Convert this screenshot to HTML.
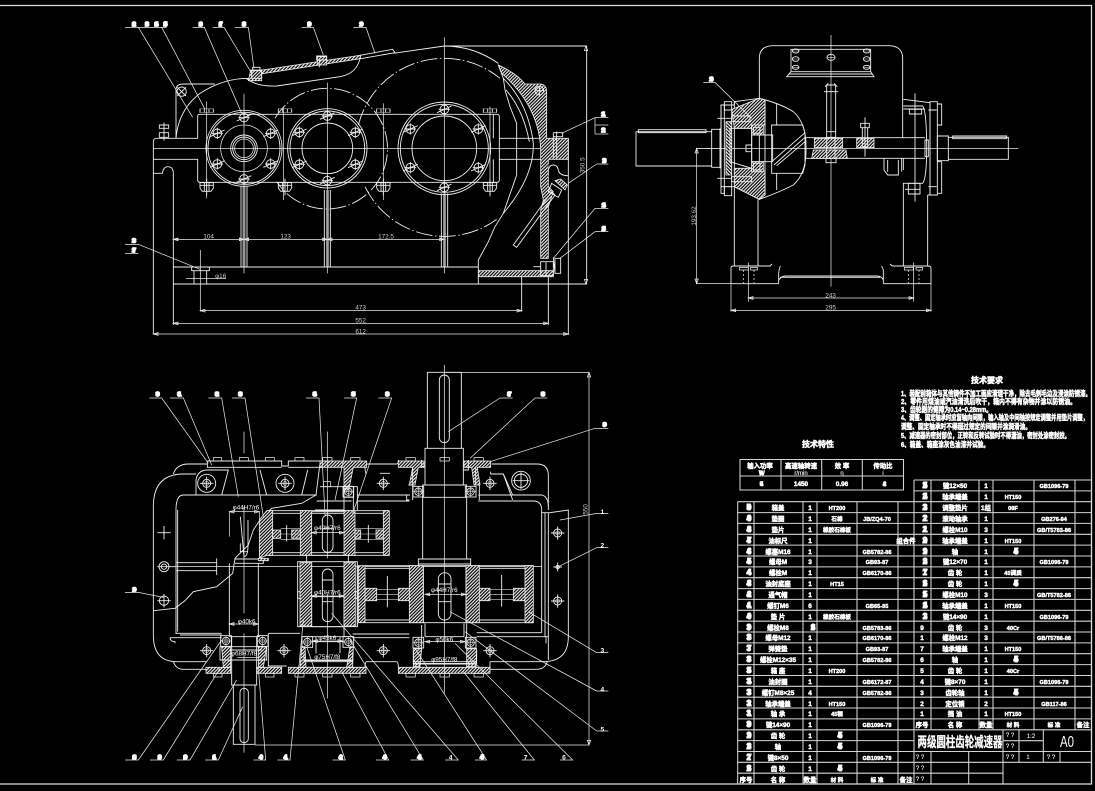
<!DOCTYPE html>
<html lang="zh"><head><meta charset="utf-8"><title>两级圆柱齿轮减速器</title>
<style>
html,body{margin:0;padding:0;background:#000}
svg{display:block}
text{fill:#fff;font-family:"Liberation Sans","Noto Sans CJK SC",sans-serif}
.l{fill:none;stroke:#f0f0f0;stroke-width:2.7;stroke-linecap:butt}
.s{fill:none;stroke:#d8d8d8;stroke-width:1.8}
.c{fill:none;stroke:#e8e8e8;stroke-width:2.2}
.dd{fill:none;stroke:#f0f0f0;stroke-width:2.7;stroke-dasharray:50 8 4 8}
.h{fill:url(#ha);stroke:#f0f0f0;stroke-width:2.4}
.h2{fill:url(#hb);stroke:#f0f0f0;stroke-width:2.4}
.b{font-size:16px;font-weight:700;stroke:#fff;stroke-width:4.5px;stroke-linejoin:miter;text-anchor:middle;letter-spacing:-6px}
.d{font-size:19px;fill:#cfcfcf;text-anchor:middle}
.t text,.t{font-size:6.4px;font-weight:700;stroke:#fff;stroke-width:.45px;text-anchor:middle}
.t tspan[x="877"],.t tspan[x="1054"],.t tspan[x="837"],.t tspan[x="1013"]{font-size:5.6px}
.n,.t tspan.n{font-size:8px;stroke-width:1px;letter-spacing:-4px}
.tl{fill:none;stroke:#d4d4d4;stroke-width:1.05}
.nt{font-size:7.4px;font-weight:700;stroke:#fff;stroke-width:.5px}
.sm{font-size:6px!important;font-weight:400!important;stroke-width:.1px!important}
</style></head><body>
<svg width="1095" height="791" viewBox="0 0 1095 791" xmlns="http://www.w3.org/2000/svg">
<defs>
<pattern id="ha" width="7" height="7" patternUnits="userSpaceOnUse" patternTransform="rotate(45)"><rect width="7" height="7" fill="#000"/><rect width="3.4" height="7" fill="#f4f4f4"/></pattern>
<pattern id="hb" width="7" height="7" patternUnits="userSpaceOnUse" patternTransform="rotate(-45)"><rect width="7" height="7" fill="#000"/><rect width="3.4" height="7" fill="#f4f4f4"/></pattern>
<g id="bo"><circle r="13" class="l"/><path class="l" d="M-22,10L22,-10M0,-17V17M-17,0H17"/></g>
<g id="nu"><path class="l" d="M-20,-10H20V6L13,16H-13L-20,6ZM-20,-2H20M-7,-10V16M7,-10V16M0,-22V28"/></g>
<g id="br"><rect x="-16" y="-16" width="32" height="32" class="l"/><circle r="11" class="l"/><circle r="6" class="s"/><path class="s" d="M-16,0H16M0,-16V16"/></g>
<g id="cr"><circle r="12" class="l"/><circle r="6" class="s"/><path class="l" d="M-20,0H20M0,-20V20"/></g>
</defs>
<rect width="1095" height="791" fill="#000"/>
<path d="M0,5.5H1091.5V784H0" fill="none" stroke="#dcdcdc" stroke-width="1.3"/>

<!-- FRONT VIEW -->
<g transform="translate(120,10) scale(.33333)">
<path class="l" d="M100,395Q100,385 110,385H233V318Q233,313 240,313H1130Q1138,313 1138,320V385H1262"/>
<path class="l" d="M100,395V972M100,490H127Q130,470 143,470Q160,470 160,490V822M100,448H233V510Q233,517 240,517H1130Q1138,517 1138,510V385M1120,385V313M1120,448V517M1138,448H1262"/>
<path class="c" d="M490,290V570M790,280V570M260,275V565M1110,290V560"/>
<path class="l" d="M168,385V240Q168,222 190,222H285M168,385Q175,300 240,250Q310,205 385,205L410,200"/>
<path class="l" d="M378,205Q410,230 470,228L660,200Q715,190 722,135"/>
<path class="l" d="M820,130L973,108Q1060,108 1135,160"/>
<circle cx="185" cy="245" r="14" class="l"/><path class="l" d="M172,232L198,258M198,232L172,258"/>
<path class="c" d="M100,415H1345M372,252V790M622,218V790M973,82V790"/>
<path class="dd" d="M465,325A181,181 0 1 1 470,515M715,345A265,265 0 0 1 1140,205M735,530A265,265 0 0 0 1130,628"/>
<circle cx="372" cy="415" r="114" class="l"/><circle cx="372" cy="415" r="108" class="l"/><circle cx="372" cy="415" r="70" class="c"/>
<circle cx="372" cy="415" r="40" class="l"/><circle cx="372" cy="415" r="34" class="l"/><circle cx="372" cy="415" r="28" class="c"/>
<use href="#bo" x="372" y="323"/><use href="#bo" x="452" y="370"/><use href="#bo" x="452" y="462"/><use href="#bo" x="372" y="507"/><use href="#bo" x="292" y="462"/><use href="#bo" x="292" y="370"/>
<circle cx="622" cy="415" r="119" class="l"/><circle cx="622" cy="415" r="112" class="l"/><circle cx="622" cy="415" r="76" class="l"/>
<use href="#bo" x="622" y="318"/><use href="#bo" x="706" y="367"/><use href="#bo" x="706" y="463"/><use href="#bo" x="622" y="512"/><use href="#bo" x="538" y="463"/><use href="#bo" x="538" y="367"/>
<circle cx="973" cy="415" r="139" class="l"/><circle cx="973" cy="415" r="132" class="l"/><circle cx="973" cy="415" r="97" class="l"/>
<use href="#bo" x="973" y="298"/><use href="#bo" x="1075" y="357"/><use href="#bo" x="1075" y="473"/><use href="#bo" x="973" y="532"/><use href="#bo" x="871" y="473"/><use href="#bo" x="871" y="357"/>
<g transform="translate(260,302) scale(1,.45)"><rect x="-20" y="-12" width="40" height="24" class="l"/><path class="l" d="M-7,-12V12M7,-12V12"/></g>
<g transform="translate(495,302) scale(1,.45)"><rect x="-20" y="-12" width="40" height="24" class="l"/><path class="l" d="M-7,-12V12M7,-12V12"/></g>
<g transform="translate(790,302) scale(1,.45)"><rect x="-20" y="-12" width="40" height="24" class="l"/><path class="l" d="M-7,-12V12M7,-12V12"/></g>
<g transform="translate(1110,302) scale(1,.45)"><rect x="-20" y="-12" width="40" height="24" class="l"/><path class="l" d="M-7,-12V12M7,-12V12"/></g>
<use href="#nu" x="260" y="528"/><use href="#nu" x="495" y="528"/><use href="#nu" x="790" y="528"/><use href="#nu" x="1110" y="528"/>
<path class="l" d="M132,338V392M118,345H146V355H118ZM118,368H146V382H118Z"/>
<path class="l" d="M363,530V771M381,530V771M613,540V771M631,540V771M964,550V771M983,550V771"/>
<path class="s" d="M369,530V771M375,530V771M619,540V771M625,540V771M970,550V771M977,550V771"/>
<path class="l" d="M160,771H1075M160,822H1400M160,822V945"/>
<path class="l" d="M215,771H268V782H215ZM222,782V822M260,782V822"/>
<path class="c" d="M241,720V905M198,805H318"/>
<text class="d" x="302" y="804">φ16</text>
<path class="h" d="M415,182L720,136L722,146L420,192Z"/>
<path class="l" d="M720,136L818,118L825,128L722,146"/>
<path class="h" d="M392,180H425V212H385Z"/>
<path class="l" d="M395,182H425V205H395ZM398,172H420V182H398Z"/>
<path class="h" d="M592,140H620V165H592Z"/>
<path class="l" d="M590,138H620V150H590ZM598,150V172"/>
<!-- section on right -->
<path class="l" d="M1135,165L1150,205L1155,240L1170,290L1190,340V495L1150,610L1125,650L1105,695L1075,750V822"/>
<path class="l" d="M1150,205Q1225,280 1240,400Q1243,500 1150,610M1158,240Q1210,300 1228,395"/>
<path class="h" d="M1135,165Q1190,190 1215,222H1262Q1280,225 1280,245V385H1345V448H1285V530L1300,545L1285,590V745H1262V600L1270,570L1262,530V415Q1255,285 1145,190Z"/>
<path d="M1285,462H1345V500H1285Z" fill="#000"/>
<path class="l" d="M1285,497V480Q1288,465 1300,465Q1312,465 1315,480Q1318,497 1345,497"/>
<circle cx="1258" cy="242" r="13" class="l"/><path class="l" d="M1245,242H1271M1258,229V255"/>
<path class="l" d="M1310,365V445M1300,380V445M1300,368H1328V380H1300Z"/>
<path class="l" d="M1180,705L1295,545L1305,555L1190,712Z"/>
<path class="h" d="M1305,512L1322,507L1342,525L1335,540Z"/>
<path class="l" d="M1285,545L1315,562L1325,540L1295,520Z"/>
<path class="h" d="M1075,782H1300V800H1075Z"/>
<path class="l" d="M1262,755H1300V797H1262ZM1278,755V797M1240,770H1262M1305,745H1322V790H1305ZM1300,742L1305,790"/>
<path class="l" d="M1345,385V975M1285,800V945M1205,800V905M1400,108H973M1400,108V822"/>
<path class="c" d="M160,688H973M160,688l14,-4v8zM372,688l-14,-4v8zM372,688l14,-4v8zM622,688l-14,-4v8zM622,688l14,-4v8zM973,688l-14,-4v8z"/>
<path class="c" d="M241,902H1205M241,902l14,-4v8zM1205,902l-14,-4v8zM160,940H1285M160,940l14,-4v8zM1285,940l-14,-4v8zM100,972H1345M100,972l14,-4v8zM1345,972l-14,-4v8zM1398,108l-5,14h10zM1398,822l-5,-14h10z"/>
<text class="d" x="266" y="686">104</text><text class="d" x="497" y="686">123</text><text class="d" x="798" y="686">172.5</text>
<text class="d" x="722" y="899">473</text><text class="d" x="722" y="937">552</text><text class="d" x="722" y="971">612</text>
<text class="d" transform="translate(1394,466) rotate(-90)">350.5</text>
<path class="c" d="M15,52H140M218,52H255M278,52H312M345,52H385M545,52H580M700,52H738M55,52L218,322M125,52L255,298M253,52L365,310M312,52L395,190M385,52L402,175M580,52L610,135M738,52L765,130M1425,323H1465M1425,345H1465M1425,372H1465M1425,323V372M1425,323L1325,370M1430,462H1465M1430,462L1345,520M1425,595H1465M1425,595L1300,745M1425,665H1465M1425,665L1320,745M15,703H55M15,730H55M55,703L240,778"/>
<g class="b"><text x="39" y="48">12</text><text x="78" y="48">13</text><text x="106" y="48">14</text><text x="133" y="48">15</text><text x="239" y="48">16</text><text x="299" y="48">17</text><text x="369" y="48">18</text><text x="565" y="48">19</text><text x="721" y="48">20</text><text x="1447" y="318">21</text><text x="1447" y="366">22</text><text x="1450" y="458">23</text><text x="1448" y="591">24</text><text x="1448" y="661">25</text><text x="39" y="698">26</text><text x="39" y="726">27</text></g>
</g>

<!-- SIDE VIEW -->
<g transform="translate(620,30) scale(.33333)">
<path class="l" d="M418,205V85Q418,47 460,47H805Q848,47 848,85V323"/>
<path class="l" d="M513,58H752V125L762,140H500L513,125ZM513,125H752M505,132H758"/>
<ellipse cx="527" cy="63" rx="10" ry="6" class="l"/><ellipse cx="527" cy="87" rx="10" ry="7" class="l"/><ellipse cx="527" cy="112" rx="10" ry="6" class="l"/><ellipse cx="740" cy="63" rx="10" ry="6" class="l"/><ellipse cx="740" cy="87" rx="10" ry="7" class="l"/><ellipse cx="740" cy="112" rx="10" ry="6" class="l"/><ellipse cx="633" cy="82" rx="12" ry="9" class="l"/><path class="s" d="M518,63H536M518,87H536M518,112H536M731,63H749M731,87H749M731,112H749M621,82H645"/>
<path class="c" d="M633,15V770M228,355H1195"/>
<path class="l" d="M303,225H343V215L418,205V508L343,470H303Z"/>
<rect x="303" y="225" width="10" height="265" class="l"/>
<path class="l" d="M313,215H335V240H313ZM313,470H335V497H313ZM335,215V497M343,215V497M343,497V708M414,508V708"/>
<path class="h" d="M335,238L418,205L435,210V285H395L395,295L343,295ZM343,415H395V423H435V495L418,508L343,470Z"/>
<path class="h2" d="M318,275H335V435H318Z"/>
<path class="l" d="M330,295H395L395,415L330,395Z"/>
<path class="l" d="M335,258H390V275H335ZM335,440H395V455H335ZM292,265H335M292,445H335M300,295V415M303,265V300"/>
<path class="h" d="M395,285H430V315H395ZM395,395H430V425H395Z"/>
<path class="l" d="M400,292H420V310H400ZM400,400H420V420H400ZM395,315H458V395H395ZM378,345H395V365H378Z"/>
<path class="l" d="M418,205Q480,220 520,245Q560,280 558,355Q560,430 520,465Q470,490 418,508"/>
<path class="l" d="M435,210V495M455,285H548L555,310V405L548,430H455ZM455,285V430M470,220V285M470,430V480M455,395L555,308M462,405L555,322M470,407L555,335"/>
<path class="l" d="M48,305H275V408H48ZM55,299H258V308H55ZM275,298H303V412H275Z"/>
<path class="l" d="M558,323H915M558,385H915M792,385V420L803,435H835V390M845,385V425M803,390V425M850,385V420"/>
<path class="h" d="M583,325H668V353H583ZM580,360H678L682,385H575Z"/>
<path class="h" d="M710,325H762V353H710Z"/>
<path class="l" d="M620,165H647V305H620ZM612,185H655M625,160L615,170M642,160L652,170M620,305H647V322H620ZM618,385H648V398H618ZM620,322H645V385H620Z"/>
<path class="l" d="M735,262V380M722,280H748V293H722ZM727,293H743V350H727Z"/>
<path class="l" d="M850,208L930,218V495H923M850,228H908Q920,245 920,355Q920,445 908,460H850V478M850,460V708M923,495V708M850,237H915M868,238H905V252H868Z"/>
<path class="l" d="M885,190V515M865,460H900V492H865ZM855,478H900"/>
<path class="l" d="M930,215H952V495H930ZM952,222H965V285H952ZM952,395H965V490H952ZM925,240H950M925,470H950M915,330H925V380H915Z"/>
<path class="l" d="M952,318H985V392H952ZM985,322H1165V388H985ZM998,318H1160V326H998Z"/>
<path class="l" d="M333,715Q333,708 340,708H450L456,702M333,715V761H476M476,761V735Q476,720 481,708M476,750Q485,738 497,738H770Q785,738 790,750V761M790,761H933V715Q933,708 925,708H817L810,702M790,750V720L785,708M933,761V715M480,742H780"/>
<path class="c" d="M358,712H385V720H358ZM392,712H412V720H392ZM853,712H880V720H853ZM888,712H908V720H888Z"/>
<path class="c" d="M385,697V815M881,697V815" />
<path class="c" stroke-dasharray="6 6" d="M370,720V760M402,720V760M865,720V760M897,720V760"/>
<path class="c" d="M228,355H300M228,761H333M230,355V761M230,355l-5,14h10zM230,761l-5,-14h10zM385,804H881M385,804l14,-4v8zM881,804l-14,-4v8zM333,761V845M933,761V845M333,841H933M333,841l14,-4v8zM933,841l-14,-4v8z"/>
<text class="d" x="632" y="802">243</text><text class="d" x="632" y="838">295</text>
<text class="d" transform="translate(228,558) rotate(-90)">193.62</text>
<path class="c" d="M250,157H285L395,265"/>
<text class="b" x="271" y="153">28</text>
</g>

<!-- PLAN VIEW -->
<g transform="translate(120,360) scale(.33333)">
<path class="l" d="M100,752V440Q100,345 185,342H228M160,342Q170,312 205,312H262"/>
<path class="l" d="M100,752V825Q100,905 170,905H262M160,905Q168,928 190,928H260"/>
<path class="l" d="M1115,312H1250Q1285,312 1285,345V450M1285,458V900M1265,458H1290L1345,450V830Q1345,905 1270,905H1110M1110,928H1250Q1275,928 1282,905"/>
<path class="l" d="M168,450Q168,405 190,405H590M173,450V815M168,450V822M150,833H305M150,833Q150,845 165,845V850M168,820H305M180,825H305"/>
<path class="l" d="M1178,423H1240Q1265,423 1265,450V818M1110,405H1265Q1285,410 1285,440M1275,458V830M1265,818H1070M1285,830H1070M1278,830V850"/>
<path class="l" d="M590,423H695M712,405H870M712,423H868M1075,405H1178L1150,342H1112V335M1075,423H1178"/>
<path class="l" d="M698,822H868M700,833H868M445,820H540M445,820V918M445,918H500M545,918V880M740,905H830Q835,905 835,922M740,905Q735,905 735,925M1110,905V925"/>
<path class="l" d="M740,312H830Q835,312 835,300M740,342Q735,340 735,320M810,340H780"/>
<path class="l" d="M228,405V360Q232,332 260,330H325L305,405M420,330L440,405M563,330L545,405M1150,342L1178,420"/>
<use href="#cr" x="260" y="370"/><use href="#cr" x="495" y="370"/><use href="#cr" x="790" y="370"/><use href="#cr" x="1110" y="370"/><use href="#cr" x="260" y="872"/><use href="#cr" x="492" y="872"/><use href="#cr" x="790" y="872"/><use href="#cr" x="1110" y="872"/>
<circle cx="260" cy="370" r="27" class="l"/><circle cx="495" cy="370" r="27" class="l"/>
<circle cx="1203" cy="362" r="28" class="l"/><circle cx="1203" cy="362" r="20" class="l"/><path class="l" d="M1178,362H1228M1203,337V387"/>
<path class="l" d="M262,303H485V318H505V303H605M262,303V322H485M505,322H605"/>
<path class="h" d="M600,303H740V322H700L686,390H672V322H600Z"/>
<path class="h" d="M835,303H912V322H895L885,375H868L878,322H835Z"/>
<path class="h" d="M1032,303H1112V322H1072L1080,375H1062L1055,322H1032Z"/>
<path class="h" d="M258,922H332V940H258ZM505,922H738V940H505ZM835,922H1110V940H835ZM410,922H485V940H410Z"/>
<path class="h" d="M305,860H332V922H310ZM415,860H440L430,922H415Z"/>
<path class="h" d="M545,860H555L558,922H540ZM690,860H700L698,922H680ZM880,866H905L900,920H880ZM1040,866H1070L1068,920H1040Z"/>
<path class="c" d="M280,293H305V303H280ZM358,293H385V303H358ZM436,293H463V303H436ZM525,293H552V303H525ZM608,293H636V303H608ZM692,293H720V303H692ZM858,293H886V303H858ZM960,293H988V303H960ZM1062,293H1090V303H1062ZM280,940H306V951H280ZM436,940H462V951H436ZM525,940H552V951H525ZM608,940H636V951H608ZM692,940H720V951H692ZM858,940H886V951H858ZM960,940H988V951H960ZM1062,940H1090V951H1062Z"/>
<path class="l" d="M100,752L165,745L195,722L220,695L290,680L338,640L345,595L385,555L400,510L420,480L455,445L545,430L588,405L600,310"/>
<circle cx="132" cy="518" r="1" class="l"/><path class="l" d="M112,518H152M132,498V538"/>
<circle cx="132" cy="620" r="15" class="l"/><circle cx="132" cy="620" r="8" class="l"/><path class="l" d="M112,620H168M168,608H290M168,632H290M290,595V645"/>
<circle cx="132" cy="722" r="14" class="l"/><path class="l" d="M112,722H152M132,702V742"/>
<use href="#cr" x="1313" y="519"/><use href="#cr" x="1313" y="723"/><path class="l" d="M1300,621H1326M1313,608V634"/><circle cx="1313" cy="621" r="5" class="l"/>
<path class="c" d="M372,215V280M372,440V760M372,820V1178M622,215V595M622,700V1015M973,15V1000M168,620H1265"/>
<path class="l" d="M328,610V830M415,610V830M345,597H430V610H345M335,830V975H410V830M340,975V1153H405V975M328,870H425"/>
<rect x="360" y="985" width="25" height="163" rx="12" class="l"/>
<path class="l" d="M361,470L372,590Q384,590 384,555V480M361,550V575H384"/>
<path class="l" d="M445,452H805V586H445ZM455,460H790M455,578H790"/>
<path class="h" d="M418,480L440,452H458V586H440L418,595Z"/>
<path class="h" d="M458,510H482V535H458ZM515,510H541V535H515ZM541,452H575V586H541ZM672,452H705V586H672ZM705,510H722V535H705ZM768,510H790V535H768ZM790,452H808V586H790ZM415,595H445V602H415Z"/>
<path class="s" d="M482,506H541M482,522H541M482,539H541M705,506H790M705,522H790M705,539H790"/>
<path class="l" d="M500,495V545M745,495V548M575,455H672M575,586H672"/>
<rect x="607" y="465" width="32" height="112" rx="16" class="l"/><path class="l" d="M607,505H639"/>
<path class="l" d="M672,380V450H585M600,380H672M698,380H712V450M672,380H700V412H672M700,380V450"/>
<use href="#br" x="685" y="395"/>
<rect x="610" y="365" width="22" height="15" class="c"/>
<path class="l" d="M533,605H712V800H533ZM575,605V800M672,605V800M560,586V605M685,586V605"/>
<path class="h" d="M540,608H575V798H540ZM672,608H706V798H672Z"/>
<path class="l" d="M533,695H540V715H533ZM706,695H712V715H706ZM575,710H672"/>
<rect x="607" y="627" width="32" height="158" rx="16" class="l"/><path class="l" d="M607,660H639M607,725H639"/>
<path class="l" d="M575,800H672V830H575M575,845H672M545,830H700M588,830V880M660,830V880M552,900H698M552,905H698M552,880V905M698,880V905"/>
<path class="l" d="M735,617H1240M735,788H1240M735,625H868M735,780H868M1078,625H1215M1078,780H1215M712,617V800"/>
<path class="h" d="M715,617H735V788H715ZM1215,617H1240V788H1215ZM868,617H910V788H868ZM1038,617H1078V788H1038ZM735,685H770V722H735ZM835,685H868V722H835ZM1078,685H1110V722H1078ZM1180,685H1215V722H1180Z"/>
<path class="s" d="M770,688H835M770,703H835M770,718H835M1110,688H1180M1110,703H1180M1110,718H1180"/>
<path class="l" d="M802,648V742M1145,645V740M910,620V788M1038,620V788M910,612H1038"/>
<rect x="955" y="638" width="38" height="142" rx="19" class="l"/><path class="l" d="M955,672H993M955,725H993"/>
<path class="l" d="M922,37H1024V265H922ZM915,265H1030V375H915ZM908,375H1040V412H908ZM908,412V597M1040,412V597M895,597H1052V612H895ZM895,612V617M1052,612V617"/>
<rect x="958" y="45" width="30" height="203" rx="15" class="l"/>
<path class="l" d="M915,790V830M1032,790V830M915,830H1032M880,905H1070M880,912H1070M880,870V912M1070,870V912M905,795V866M1040,790V866"/>
<path class="l" d="M1067,322V375M878,322V375M865,375H878V420M1078,375V420M860,405V420H868"/>
<use href="#br" x="318" y="843"/><use href="#br" x="428" y="843"/><use href="#br" x="562" y="846"/><use href="#br" x="685" y="846"/><use href="#br" x="895" y="848"/><use href="#br" x="1052" y="848"/><use href="#br" x="895" y="395"/><use href="#br" x="1052" y="395"/>
<path class="l" d="M300,860H440V900H300ZM328,830H420"/>
<path class="l" d="M1030,330H1045V300M915,320H905V300"/>
<path class="c" d="M328,455V530M328,455H418V490M328,792H415M575,518H672M575,708H672M578,843H668M915,845H1035M352,892H415M552,902H698M880,910H1065"/>
<path class="c" d="M973,37H1407M1407,37V1155M405,1155H1407M1407,37l-5,14h10zM1407,1155l-5,-14h10zM328,455l14,-4v8zM418,455l-14,-4v8zM328,792l14,-4v8zM415,792l-14,-4v8zM575,518l14,-4v8zM672,518l-14,-4v8zM575,708l14,-4v8zM672,708l-14,-4v8zM578,843l14,-4v8zM668,843l-14,-4v8zM915,703H1038M915,703l14,-4v8zM1038,703l-14,-4v8zM915,845l14,-4v8zM1035,845l-14,-4v8z"/>
<g class="d"><text x="378" y="449">φ44H7/r6</text><text x="622" y="510">φ40H7/r6</text><text x="622" y="703">φ40H7/r6</text><text x="973" y="696">φ44H7/r6</text><text x="380" y="790">φ40k6</text><text x="622" y="840">φ45k6</text><text x="973" y="845">φ50k6</text><text x="372" y="887">φ68H7/f8</text><text x="622" y="897">φ75H7/f8</text><text x="973" y="905">φ95H7/f8</text></g>
<text class="d" transform="translate(1402,448) rotate(-90)">550</text>
<path class="c" d="M88,114H125L265,310M150,114H190L275,315M265,114H305L355,410M336,114H375L430,470M558,114H597L615,465M672,114H710L645,420M775,114H815L695,470M1140,114H1178M1140,114L985,215M1245,114H1282M1245,114L1050,295M1425,205H1465M1425,205L1110,305M1430,460H1465M1430,460L1320,480M1430,563H1465M1430,563L1315,620M1430,878H1465M1430,878L1225,755M1430,993H1465M1430,993L990,755M1430,1113H1465M1430,1113L1035,815M15,697H55L130,712"/>
<path class="c" d="M15,1200H55L305,840M90,1200H130L300,925M170,1200H210L350,960M255,1200H295L368,1040M400,1200H437L415,925M472,1200H510L550,780M638,1200H676L560,860M768,1200H806L665,935M872,1200H910L690,840M975,1200H1015L635,760M1065,1200H1100L885,865M1205,1200H1243L1030,935M1320,1200H1358L1005,850"/>
<g class="b"><text x="110" y="108">30</text><text x="175" y="108">31</text><text x="288" y="108">32</text><text x="358" y="108">33</text><text x="581" y="108">34</text><text x="697" y="108">35</text><text x="799" y="108">36</text><text x="1165" y="108">37</text><text x="1266" y="108">38</text><text x="1451" y="199">39</text><text x="40" y="694">29</text>
<text x="40" y="1197">18</text><text x="116" y="1197">19</text><text x="193" y="1197">10</text><text x="280" y="1197">11</text><text x="420" y="1197">40</text><text x="494" y="1197">41</text><text x="659" y="1197">42</text><text x="791" y="1197">43</text><text x="895" y="1197">44</text><text x="1083" y="1197">45</text></g>
<g class="d" style="font-weight:700;font-size:20px"><text x="1447" y="462">1</text><text x="1447" y="563">2</text><text x="1447" y="878">3</text><text x="1447" y="994">4</text><text x="1447" y="1114">5</text><text x="992" y="1198">4</text><text x="1217" y="1198">7</text><text x="1332" y="1198">6</text></g>
</g>

<!-- TECH REQUIREMENTS -->
<text x="987" y="383" class="nt" text-anchor="middle" style="font-size:8px">技术要求</text>
<g class="nt">
<text x="901" y="396" textLength="190" lengthAdjust="spacingAndGlyphs">1、装配前箱体与其他铸件不加工面应清理干净，除去毛刺毛边及浸涂防锈漆。</text>
<text x="901" y="404" textLength="175" lengthAdjust="spacingAndGlyphs">2、零件用煤油或汽油清洗后吹干，箱内不得有杂物并涂以防锈油。</text>
<text x="901" y="412" textLength="91" lengthAdjust="spacingAndGlyphs">3、齿轮副的侧隙为0.14~0.28mm。</text>
<text x="901" y="420" textLength="187" lengthAdjust="spacingAndGlyphs">4、调整、固定轴承时应留轴向间隙，输入轴及中间轴按规定调整并用垫片调整，</text>
<text x="901" y="429" textLength="130" lengthAdjust="spacingAndGlyphs">调整、固定轴承时不得超过规定的间隙并涂润滑油。</text>
<text x="901" y="438" textLength="169" lengthAdjust="spacingAndGlyphs">5、减速器的密封部位，正转和反转试验时不得漏油，密封处涂密封胶。</text>
<text x="901" y="447" textLength="88" lengthAdjust="spacingAndGlyphs">6、箱盖、箱座涂灰色油漆并试验。</text>
</g>
<text x="818" y="447" class="nt" text-anchor="middle" style="font-size:8px">技术特性</text>

<!-- SPEC TABLE -->
<path class="tl" d="M740,459.5H903.5V490H740ZM740,476H903.5M781,459.5V490M821.7,459.5V490M862.3,459.5V490"/>
<g class="t"><text x="760" y="468">输入功率</text><text x="760" y="475" class="n">kW</text><text x="801" y="468">高速轴转速</text><text x="801" y="475" class="sm">r/min</text><text x="842" y="468">效 率</text><text x="842" y="475" class="sm">η</text><text x="883" y="468">传动比</text><text x="883" y="475" class="sm">i</text>
<text x="760" y="486" class="n">45</text><text x="801" y="486">1450</text><text x="842" y="486">0.96</text><text x="883" y="486" class="n">24</text></g>

<!-- PARTS TABLE -->
<path class="tl" d="M737.7,501.7H1091.5M737.7,512.6H1091.5M737.7,523.4H1091.5M737.7,534.3H1091.5M737.7,545.1H1091.5M737.7,556H1091.5M737.7,566.9H1091.5M737.7,577.7H1091.5M737.7,588.6H1091.5M737.7,599.4H1091.5M737.7,610.3H1091.5M737.7,621.2H1091.5M737.7,632H1091.5M737.7,642.9H1091.5M737.7,653.7H1091.5M737.7,664.6H1091.5M737.7,675.5H1091.5M737.7,686.3H1091.5M737.7,697.2H1091.5M737.7,708H1091.5M737.7,718.9H1091.5M737.7,729.8H1091.5M737.7,740.6H914M737.7,751.5H1091.5M737.7,762.3H1091.5M737.7,773.2H1003M914,480H1091.5M914,490.9H1091.5"/>
<path class="tl" d="M737.7,501.7V784M754,501.7V784M803,501.7V784M817,501.7V784M857,501.7V784M898,501.7V784M914,480V784M931,480V729.8M979,480V729.8M993,480V729.8M1034,480V729.8M1075,480V729.8"/>
<path class="tl" d="M931,751.5V784M968.7,751.5V784M1003,729.8V784M1003,740.7H1043M1019,729.8V762.3M1043.3,729.8V762.3M1060,751.5V762.3"/>
<g class="t">
<text y="510"><tspan class="n" x="747">50</tspan><tspan x="778">箱盖</tspan><tspan x="810">1</tspan><tspan x="837">HT200</tspan></text>
<text y="521"><tspan class="n" x="747">49</tspan><tspan x="778">垫圈</tspan><tspan x="810">1</tspan><tspan x="837">石棉</tspan><tspan x="877">JB/ZQ4-70</tspan></text>
<text y="532"><tspan class="n" x="747">48</tspan><tspan x="778">垫片</tspan><tspan x="810">1</tspan><tspan x="837">橡胶石棉板</tspan></text>
<text y="543"><tspan class="n" x="747">47</tspan><tspan x="778">油标尺</tspan><tspan x="810">1</tspan><tspan x="906">组合件</tspan></text>
<text y="554"><tspan class="n" x="747">46</tspan><tspan x="778">螺塞M16</tspan><tspan x="810">1</tspan><tspan x="877">GB5782-86</tspan></text>
<text y="564"><tspan class="n" x="747">45</tspan><tspan x="778">螺母M</tspan><tspan x="810">3</tspan><tspan x="877">GB93-87</tspan></text>
<text y="575"><tspan class="n" x="747">44</tspan><tspan x="778">螺栓M</tspan><tspan x="810">1</tspan><tspan x="877">GB6170-86</tspan></text>
<text y="586"><tspan class="n" x="747">43</tspan><tspan x="778">油封底座</tspan><tspan x="810">1</tspan><tspan x="837">HT15</tspan></text>
<text y="597"><tspan class="n" x="747">42</tspan><tspan x="778">通气帽</tspan><tspan x="810">1</tspan></text>
<text y="608"><tspan class="n" x="747">41</tspan><tspan x="778">螺钉M6</tspan><tspan x="810">6</tspan><tspan x="877">GB65-85</tspan></text>
<text y="619"><tspan class="n" x="747">40</tspan><tspan x="778">垫 片</tspan><tspan x="810">1</tspan><tspan x="837">橡胶石棉板</tspan></text>
<text y="630"><tspan class="n" x="747">39</tspan><tspan x="778">螺栓M8</tspan><tspan class="n" x="811">16</tspan><tspan x="877">GB5783-86</tspan></text>
<text y="640"><tspan class="n" x="747">38</tspan><tspan x="778">螺母M12</tspan><tspan x="810">1</tspan><tspan x="877">GB6170-86</tspan></text>
<text y="651"><tspan class="n" x="747">37</tspan><tspan x="778">弹簧垫</tspan><tspan x="810">1</tspan><tspan x="877">GB93-87</tspan></text>
<text y="662"><tspan class="n" x="747">36</tspan><tspan x="778">螺栓M12×35</tspan><tspan x="810">1</tspan><tspan x="877">GB5782-86</tspan></text>
<text y="673"><tspan class="n" x="747">35</tspan><tspan x="778">箱 座</tspan><tspan x="810">1</tspan><tspan x="837">HT200</tspan></text>
<text y="684"><tspan class="n" x="747">34</tspan><tspan x="778">油封圈</tspan><tspan x="810">1</tspan><tspan x="877">GB6172-87</tspan></text>
<text y="695"><tspan class="n" x="747">33</tspan><tspan x="778">螺钉M8×25</tspan><tspan x="810">4</tspan><tspan x="877">GB5782-86</tspan></text>
<text y="706"><tspan class="n" x="747">32</tspan><tspan x="778">轴承端盖</tspan><tspan x="810">1</tspan><tspan x="837">HT150</tspan></text>
<text y="716"><tspan class="n" x="747">31</tspan><tspan x="778">轴 承</tspan><tspan x="810">1</tspan><tspan x="837">45钢</tspan></text>
<text y="727"><tspan class="n" x="747">30</tspan><tspan x="778">键14×90</tspan><tspan x="810">1</tspan><tspan x="877">GB1096-79</tspan></text>
<text y="738"><tspan class="n" x="747">29</tspan><tspan x="778">齿 轮</tspan><tspan x="810">1</tspan><tspan class="n" x="838">45</tspan></text>
<text y="749"><tspan class="n" x="747">28</tspan><tspan x="778">轴</tspan><tspan x="810">1</tspan><tspan class="n" x="838">45</tspan></text>
<text y="760"><tspan class="n" x="747">27</tspan><tspan x="778">键8×50</tspan><tspan x="810">1</tspan><tspan x="877">GB1096-79</tspan></text>
<text y="771"><tspan class="n" x="747">26</tspan><tspan x="778">齿 轮</tspan><tspan x="810">1</tspan><tspan class="n" x="838">45</tspan></text>
<text y="782"><tspan x="746">序号</tspan><tspan x="778">名 称</tspan><tspan x="810">数量</tspan><tspan x="837">材 料</tspan><tspan x="877">标 准</tspan><tspan x="906">备注</tspan></text>

<text y="488"><tspan class="n" x="923">25</tspan><tspan x="955">键12×50</tspan><tspan x="986">1</tspan><tspan x="1054">GB1096-79</tspan></text>
<text y="499"><tspan class="n" x="923">24</tspan><tspan x="955">轴承端盖</tspan><tspan x="986">1</tspan><tspan x="1013">HT150</tspan></text>
<text y="510"><tspan class="n" x="923">23</tspan><tspan x="955">调整垫片</tspan><tspan x="986">1组</tspan><tspan x="1013">08F</tspan></text>
<text y="521"><tspan class="n" x="923">22</tspan><tspan x="955">滚动轴承</tspan><tspan x="986">1</tspan><tspan x="1054">GB276-94</tspan></text>
<text y="532"><tspan class="n" x="923">21</tspan><tspan x="955">螺栓M10</tspan><tspan x="986">3</tspan><tspan x="1054">GB/T5783-86</tspan></text>
<text y="543"><tspan class="n" x="923">20</tspan><tspan x="955">轴承端盖</tspan><tspan x="986">1</tspan><tspan x="1013">HT150</tspan></text>
<text y="554"><tspan class="n" x="923">19</tspan><tspan x="955">轴</tspan><tspan x="986">1</tspan><tspan class="n" x="1014">45</tspan></text>
<text y="564"><tspan class="n" x="923">18</tspan><tspan x="955">键12×70</tspan><tspan x="986">1</tspan><tspan x="1054">GB1096-79</tspan></text>
<text y="575"><tspan class="n" x="923">17</tspan><tspan x="955">齿 轮</tspan><tspan x="986">1</tspan><tspan x="1013">45调质</tspan></text>
<text y="586"><tspan class="n" x="923">16</tspan><tspan x="955">齿 轮</tspan><tspan x="986">1</tspan><tspan class="n" x="1014">45</tspan></text>
<text y="597"><tspan class="n" x="923">15</tspan><tspan x="955">螺栓M10</tspan><tspan x="986">3</tspan><tspan x="1054">GB/T5782-86</tspan></text>
<text y="608"><tspan class="n" x="923">14</tspan><tspan x="955">轴承端盖</tspan><tspan x="986">1</tspan><tspan x="1013">HT150</tspan></text>
<text y="619"><tspan class="n" x="923">13</tspan><tspan x="955">键14×90</tspan><tspan x="986">1</tspan><tspan x="1054">GB1096-79</tspan></text>
<text y="630"><tspan x="922">9</tspan><tspan x="955">齿 轮</tspan><tspan x="986">3</tspan><tspan x="1013">40Cr</tspan></text>
<text y="640"><tspan x="922">1</tspan><tspan x="955">螺栓M12</tspan><tspan x="986">3</tspan><tspan x="1054">GB/T5786-86</tspan></text>
<text y="651"><tspan x="922">7</tspan><tspan x="955">轴承端盖</tspan><tspan x="986">1</tspan><tspan x="1013">HT150</tspan></text>
<text y="662"><tspan x="922">6</tspan><tspan x="955">轴</tspan><tspan x="986">1</tspan><tspan class="n" x="1014">45</tspan></text>
<text y="673"><tspan x="922">5</tspan><tspan x="955">齿 轮</tspan><tspan x="986">1</tspan><tspan x="1013">40Cr</tspan></text>
<text y="684"><tspan x="922">4</tspan><tspan x="955">键8×70</tspan><tspan x="986">1</tspan><tspan x="1054">GB1096-79</tspan></text>
<text y="695"><tspan x="922">3</tspan><tspan x="955">齿轮轴</tspan><tspan x="986">1</tspan><tspan class="n" x="1014">45</tspan></text>
<text y="706"><tspan x="922">2</tspan><tspan x="955">定位销</tspan><tspan x="986">2</tspan><tspan x="1054">GB117-86</tspan></text>
<text y="716"><tspan x="922">1</tspan><tspan x="955">挡 油</tspan><tspan x="986">1</tspan><tspan x="1013">HT150</tspan></text>
<text y="727"><tspan x="922">序号</tspan><tspan x="955">名 称</tspan><tspan x="986">数量</tspan><tspan x="1013">材 料</tspan><tspan x="1054">标 准</tspan><tspan x="1083">备注</tspan></text>

<text x="920" y="759" class="sm">? ?</text><text x="920" y="770" class="sm">? ?</text><text x="920" y="781" class="sm">? ?</text>
<text x="1010" y="737" class="sm">? ?</text><text x="1010" y="748" class="sm">? ?</text><text x="1010" y="759" class="sm">? ?</text><text x="1031" y="738" class="sm">1:2</text><text x="1028" y="759" class="sm">1</text><text x="1051" y="759" class="sm">? ?</text>
</g>
<text x="960" y="747" text-anchor="middle" font-size="14" font-weight="700" stroke="#fff" stroke-width=".3" textLength="85" lengthAdjust="spacingAndGlyphs">两级圆柱齿轮减速器</text>
<text x="1067" y="747" text-anchor="middle" font-size="16" fill="#d0d0d0" textLength="14" lengthAdjust="spacingAndGlyphs">A0</text>
</svg>
</body></html>
